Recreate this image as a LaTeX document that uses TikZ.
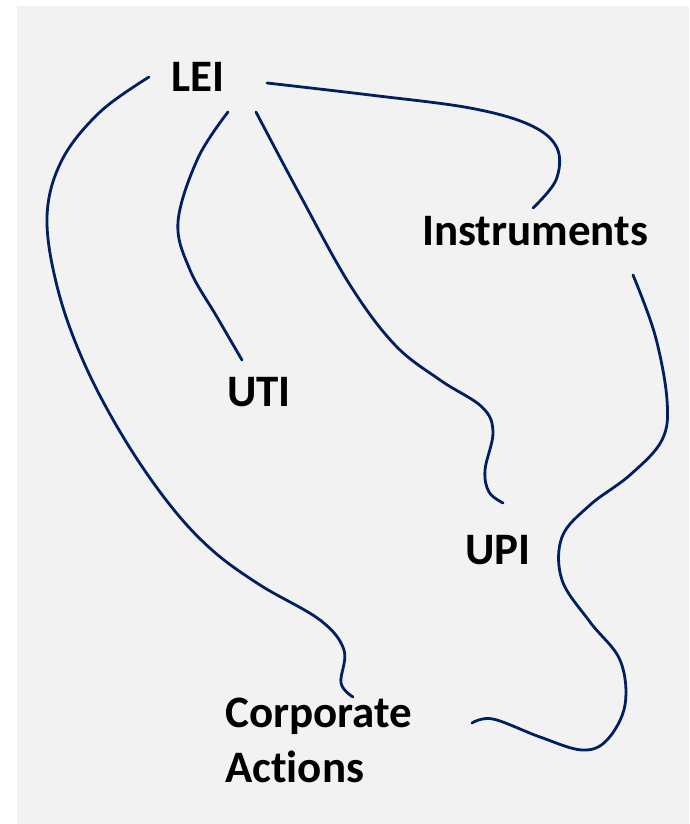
\documentclass[tikz,border=0pt]{standalone}
\usepackage{fontspec}
\setmainfont[Ligatures=NoCommon]{Carlito}
\definecolor{bggray}{HTML}{F2F2F2}
\definecolor{navy}{HTML}{002060}
\tikzset{
  lbl/.style={anchor=base west, inner sep=0pt, font=\fontsize{45}{55}\selectfont\bfseries, text=black},
  conn/.style={draw=navy, line width=2.8pt, line cap=round}
}
\begin{document}
\begin{tikzpicture}[x=1pt,y=-1pt]
\useasboundingbox (0,0) rectangle (689,824);
\fill[white] (0,0) rectangle (689,824);
\fill[bggray] (17,6) rectangle (689,824);
\node[lbl] (LEI) at (171,92) {LEI};
\node[lbl] (UTI) at (227,406) {UTI};
\node[lbl] (UPI) at (465,564) {UPI};
\node[lbl] (INS) at (422,245) {Instruments};
\node[lbl, align=left] (CA) at (225,782) {Corporate\\Actions};
% connector end points
\coordinate (c1a) at (149,77);  \coordinate (c1b) at (353,697);
\coordinate (c2a) at (228,112); \coordinate (c2b) at (242,360);
\coordinate (c3a) at (256,112); \coordinate (c3b) at (503,503);
\coordinate (c4a) at (267,83);  \coordinate (c4b) at (533,208);
\coordinate (c5a) at (633,275); \coordinate (c5b) at (472,723);
\draw[conn] plot[smooth, tension=0.6] coordinates {(c1a) (100,112) (62,160) (47,217) (58,290) (85,365) (125,440) (170,505) (212,550) (260,585) (320,620) (344,650) (341,683) (c1b)};
\draw[conn] plot[smooth, tension=0.6] coordinates {(c2a) (198,158) (178,222) (190,270) (217,317) (c2b)};
\draw[conn] plot[smooth, tension=0.6] coordinates {(c3a) (300,195) (350,285) (395,345) (440,380) (482,407) (493,432) (485,470) (489,492) (c3b)};
\draw[conn] plot[smooth, tension=0.6] coordinates {(c4a) (370,95) (470,108) (530,125) (557,148) (556,180) (c4b)};
\draw[conn] plot[smooth, tension=0.6] coordinates {(c5a) (655,335) (667,400) (662,440) (630,475) (590,505) (562,537) (562,580) (590,622) (620,660) (625,705) (607,740) (582,750) (540,737) (493,719) (c5b)};
\end{tikzpicture}
\end{document}
